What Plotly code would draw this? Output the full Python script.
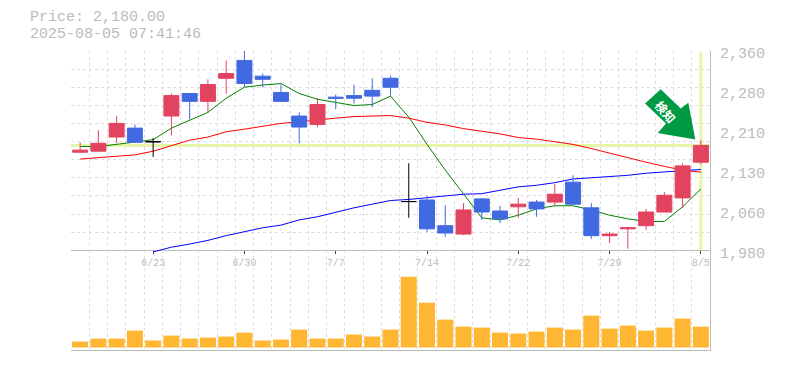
import plotly.graph_objects as go

n_days = 35
days = list(range(n_days))
date_pos = [4, 9, 14, 19, 24, 29, 34]
date_labels = ["6/23", "6/30", "7/7", "7/14", "7/22", "7/29", "8/5"]
price_labels = [2360, 2284, 2208, 2132, 2056, 1980]
price_label_text = ["2,360", "2,280", "2,210", "2,130", "2,060", "1,980"]

# open, high, low, close
opens = [2167, 2169, 2196, 2213, 2187, 2236, 2279, 2264, 2308, 2342, 2312, 2281, 2236, 2220, 2272, 2275, 2285, 2308,
         2073, 2076, 2027, 2011, 2078, 2055, 2063, 2072, 2072, 2110, 2061, 2008, 2021, 2027, 2053, 2080, 2148]
highs = [2186, 2209, 2236, 2220, 2194, 2279, 2279, 2306, 2342, 2360, 2317, 2296, 2243, 2270, 2277, 2296, 2308, 2313,
         2146, 2084, 2066, 2070, 2080, 2065, 2080, 2076, 2106, 2123, 2070, 2015, 2025, 2059, 2091, 2146, 2190]
lows = [2166, 2169, 2184, 2186, 2158, 2199, 2230, 2242, 2279, 2291, 2291, 2264, 2184, 2215, 2249, 2260, 2253, 2275,
        2042, 2015, 2006, 2009, 2038, 2032, 2042, 2044, 2065, 2068, 2002, 1994, 1983, 2019, 2053, 2061, 2144]
closes = [2171, 2184, 2222, 2186, 2187, 2275, 2264, 2296, 2317, 2298, 2306, 2264, 2215, 2258, 2270, 2270, 2274, 2291,
          2073, 2021, 2013, 2057, 2053, 2040, 2068, 2059, 2087, 2068, 2008, 2011, 2023, 2053, 2085, 2141, 2180]
doji_days = [4, 18]

ma_short = [2178, 2178, 2182, 2186, 2191, 2213, 2228, 2243, 2270, 2291, 2295, 2298, 2279, 2268, 2262, 2256, 2258, 2274,
            2234, 2182, 2133, 2087, 2042, 2038, 2047, 2059, 2065, 2065, 2057, 2047, 2040, 2035, 2035, 2063, 2097]
ma_mid = [2154, 2157, 2160, 2162, 2169, 2180, 2190, 2196, 2206, 2211, 2217, 2222, 2225, 2229, 2232, 2235, 2236, 2237,
          2232, 2224, 2219, 2212, 2207, 2202, 2195, 2192, 2187, 2182, 2174, 2165, 2157, 2148, 2140, 2133, 2129]
ma_long_days = list(range(4, 35))
ma_long = [1977, 1986, 1992, 1999, 2008, 2015, 2023, 2028, 2038, 2044, 2053, 2061, 2068, 2075, 2077, 2080, 2084, 2087,
           2088, 2094, 2101, 2104, 2109, 2116, 2118, 2120, 2123, 2127, 2130, 2132, 2134]
volumes = [6, 9, 9, 17, 7, 12, 9, 10, 11, 15, 7, 8, 18, 9, 9, 13, 11, 18, 71, 45, 28, 21, 20, 15, 14, 16, 20, 18, 32,
           19, 22, 17, 20, 29, 21]
last_price = 2180
price_text = "Price: 2,180.00"
time_text = "2025-08-05 07:41:46"

RED, BLUE, BLACK = "#E2435F", "#4169E1", "#000000"
GRID, AXIS, TEXT = "#DDDDDD", "#BBBBBB", "#BBBBBB"
YELLOW = "#E6F5A8"
FONT = "Liberation Mono"
W, H = 785, 370
L, R, T, B = 70.5, 710, 50.5, 350.5
xr = [-0.5, 34.5]
yr = [1980, 2360]
yr_vol = [-2.5, 97.5]
x_grid = [i - 0.5 for i in range(n_days + 1)]
y_grid = [1980 + i * 380 / 11 for i in range(12)]
# the long average dips just under the price floor, so its axis reaches a little lower
extra_px = 6
unit_per_px = (yr[1] - yr[0]) / 200


def px(x):
    return (x - L) / (R - L)


def py(y):
    return (B - y) / (B - T)


def to_x(x):
    return xr[0] + (x - L) / (R - L) * (xr[1] - xr[0])


def to_y(y):
    return yr[0] + (T + 200 - y) / 200 * (yr[1] - yr[0])


fig = go.Figure()
fig.add_trace(go.Scatter(x=xr, y=[last_price, last_price], mode="lines", line=dict(color=YELLOW, width=3),
                         xaxis="x", yaxis="y", hoverinfo="skip"))
fig.add_trace(go.Scatter(x=[34, 34], y=[1981, 2359], mode="lines", line=dict(color=YELLOW, width=3),
                         xaxis="x", yaxis="y", hoverinfo="skip"))
fig.add_trace(go.Scatter(x=days, y=ma_short, mode="lines", line=dict(color="#008000", width=1), name="short",
                         xaxis="x", yaxis="y"))
fig.add_trace(go.Scatter(x=days, y=ma_mid, mode="lines", line=dict(color="#FF0000", width=1), name="mid",
                         xaxis="x", yaxis="y"))
fig.add_trace(go.Scatter(x=ma_long_days, y=ma_long, mode="lines", line=dict(color="#0000FF", width=1), name="long",
                         xaxis="x3", yaxis="y3"))

regular = [d for d in days if d not in doji_days]
fig.add_trace(go.Candlestick(
    x=regular, open=[opens[d] for d in regular], high=[highs[d] for d in regular],
    low=[lows[d] for d in regular], close=[closes[d] for d in regular],
    increasing=dict(line=dict(color=RED, width=1), fillcolor=RED),
    decreasing=dict(line=dict(color=BLUE, width=1), fillcolor=BLUE),
    whiskerwidth=0, xaxis="x4", yaxis="y4", name="price"))
fig.add_trace(go.Candlestick(
    x=doji_days, open=[opens[d] for d in doji_days], high=[highs[d] for d in doji_days],
    low=[lows[d] for d in doji_days], close=[closes[d] for d in doji_days],
    increasing=dict(line=dict(color=BLACK, width=1), fillcolor=BLACK),
    decreasing=dict(line=dict(color=BLACK, width=1), fillcolor=BLACK),
    whiskerwidth=0, xaxis="x4", yaxis="y4", name="doji"))
fig.add_trace(go.Bar(x=days, y=volumes, marker=dict(color="#FFB733", line=dict(width=0)),
                     xaxis="x2", yaxis="y2", name="volume"))

minor_x = dict(tickmode="array", tickvals=x_grid, showgrid=True, gridcolor=GRID, gridwidth=1,
               griddash="3px,3px", ticks="")
arrow = [(645, 103.3), (660.7, 89), (680.7, 108.3), (688.3, 102.3), (695.3, 139.3), (657.7, 132.7), (666, 123.3)]
arrow_path = "M " + " L ".join(f"{to_x(a):.4f},{to_y(b):.2f}" for a, b in arrow) + " Z"

fig.update_layout(
    width=W, height=H, showlegend=False, paper_bgcolor="white", plot_bgcolor="rgba(0,0,0,0)",
    margin=dict(l=L, r=W - R, t=T, b=H - B, pad=0, autoexpand=False),
    bargap=0.12, boxgap=0.18, boxgroupgap=0, boxmode="overlay",
    font=dict(family=FONT, color=TEXT, size=10),
    xaxis=dict(domain=[0, 1], range=xr, anchor="y", tickmode="array", tickvals=date_pos, ticktext=date_labels,
               showgrid=False, zeroline=False, showline=True, linecolor=AXIS, linewidth=1,
               ticks="outside", ticklen=3, tickwidth=0,
               tickfont=dict(family=FONT, size=10, color=TEXT), minor=minor_x),
    yaxis=dict(domain=[1 / 3, 1], range=yr, anchor="x", side="right", tickmode="array", tickvals=price_labels,
               ticktext=price_label_text, showgrid=False, zeroline=False, showline=True, linecolor=AXIS, linewidth=1,
               ticks="", ticklabelstandoff=6, ticklabelshift=2,
               tickfont=dict(family=FONT, size=15, color=TEXT),
               minor=dict(tickmode="array", tickvals=y_grid, showgrid=True, gridcolor=GRID, gridwidth=1,
                          griddash="3px,3px", ticks="")),
    xaxis2=dict(domain=[0, 1], range=xr, anchor="y2", showticklabels=False, showgrid=False, zeroline=False,
                showline=True, linecolor=AXIS, linewidth=1, ticks="", minor=minor_x),
    yaxis2=dict(domain=[0, 1 / 3], range=yr_vol, anchor="x2", side="right", showticklabels=False, showgrid=False,
                zeroline=False, showline=True, linecolor=AXIS, linewidth=1, ticks=""),
    xaxis3=dict(domain=[0, 1], range=xr, anchor="y3", visible=False),
    yaxis3=dict(domain=[1 / 3 - extra_px / 300, 1], range=[yr[0] - extra_px * unit_per_px, yr[1]], anchor="x3",
                visible=False),
    xaxis4=dict(domain=[0, 1], range=xr, anchor="y4", visible=False, rangeslider=dict(visible=False)),
    yaxis4=dict(domain=[1 / 3, 1], range=yr, anchor="x4", visible=False),
    shapes=[dict(type="path", path=arrow_path, xref="x", yref="y", fillcolor="#009A44",
                 line=dict(width=0), layer="between")],
    annotations=[
        dict(text=price_text, x=px(27), y=py(17), xref="paper", yref="paper", xanchor="left", yanchor="middle",
             showarrow=False, font=dict(family=FONT, size=15, color=TEXT)),
        dict(text=time_text, x=px(27), y=py(34), xref="paper", yref="paper", xanchor="left", yanchor="middle",
             showarrow=False, font=dict(family=FONT, size=15, color=TEXT)),
        dict(text="<b>検知</b>", x=px(666), y=py(111), xref="paper", yref="paper", showarrow=False, textangle=50,
             xanchor="center", yanchor="middle",
             font=dict(family="Noto Sans CJK JP", size=12, color="white")),
    ],
)

fig.write_html("out.html", config={"displayModeBar": False},
               post_script="document.body.style.margin='0';")
